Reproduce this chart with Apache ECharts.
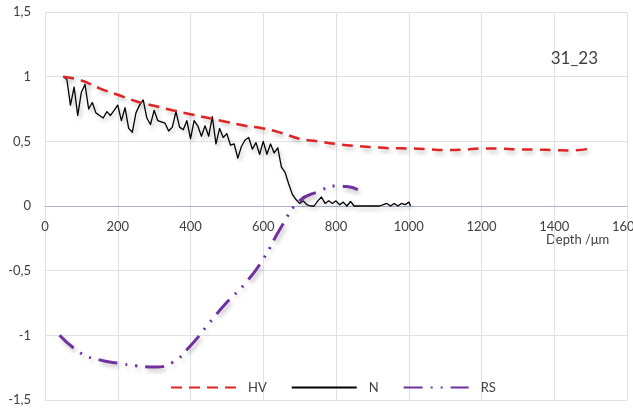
<!DOCTYPE html>
<html>
<head>
<meta charset="utf-8">
<script src="https://cdn.jsdelivr.net/npm/echarts@6/dist/echarts.min.js"></script>
<style>
  html, body { margin: 0; padding: 0; background: #fff; }
  #chart { width: 633px; height: 412px; }
</style>
</head>
<body>
<div id="chart"></div>
<script>
// HV (dashed red)
var hvDepth = [50, 100, 150, 200, 250, 300, 350, 400, 450, 500, 550, 600, 650, 700, 750,
  800, 850, 900, 950, 1000, 1050, 1100, 1150, 1200, 1250, 1300, 1350, 1400, 1450, 1500]
var hvValue = [1.00, 0.97, 0.91, 0.86, 0.81, 0.775, 0.74, 0.71, 0.68, 0.65, 0.62, 0.60, 0.565, 0.52, 0.50,
  0.48, 0.465, 0.455, 0.447, 0.445, 0.44, 0.432, 0.435, 0.445, 0.443, 0.438, 0.436, 0.432, 0.43, 0.445]

// N (black, noisy)
var nDepth = [50, 60, 70, 80, 90, 100, 110, 120, 130, 140, 150, 160, 170, 180, 190,
  200, 210, 220, 230, 240, 250, 260, 270, 280, 290, 300, 310, 320, 330, 340,
  350, 360, 370, 380, 390, 400, 410, 420, 430, 440, 450, 460, 470, 480, 490,
  500, 510, 520, 530, 540, 550, 560, 570, 580, 590, 600, 610, 620, 630, 640,
  650, 660, 670, 680, 690, 700, 710, 720, 730, 740, 750, 760, 770, 780, 790,
  800, 810, 820, 830, 840, 850, 860, 870, 880, 890, 900, 910, 920, 930, 940,
  950, 960, 970, 980, 990, 1000, 1005]
var nValue = [1.00, 0.98, 0.78, 0.92, 0.70, 0.88, 0.94, 0.75, 0.80, 0.72, 0.70, 0.68, 0.73, 0.70, 0.74,
  0.78, 0.66, 0.76, 0.60, 0.57, 0.72, 0.78, 0.82, 0.68, 0.63, 0.74, 0.66, 0.65, 0.64, 0.58,
  0.61, 0.73, 0.61, 0.59, 0.66, 0.52, 0.66, 0.62, 0.54, 0.62, 0.54, 0.69, 0.48, 0.60, 0.53,
  0.56, 0.47, 0.48, 0.37, 0.46, 0.51, 0.53, 0.44, 0.49, 0.40, 0.50, 0.40, 0.48, 0.41, 0.45,
  0.30, 0.26, 0.17, 0.09, 0.05, 0.02, 0.04, 0.01, 0.00, 0.00, 0.04, 0.07, 0.02, 0.04, 0.02,
  0.04, 0.01, 0.03, 0.00, 0.035, 0.00, 0.00, 0.00, 0.00, 0.00, 0.00, 0.00, 0.00, 0.01, 0.02,
  0.00, 0.02, 0.00, 0.02, 0.01, 0.03, 0.00]

// RS (purple dash-dot-dot)
var rsDepth = [40, 100, 150, 200, 250, 300, 350, 400, 450, 500, 550, 600, 650, 700, 750, 800, 830, 860]
var rsValue = [-1.0, -1.14, -1.19, -1.215, -1.235, -1.245, -1.21, -1.08, -0.91, -0.745, -0.60, -0.41, -0.16, 0.04, 0.11, 0.155, 0.15, 0.127]

var xTicks = { min: 0, max: 1600, interval: 200 }
var yTicks = { min: -1.5, max: 1.5, interval: 0.5 }

function pairs(xs, ys) {
  return xs.map(function (x, i) { return [x, ys[i]] })
}

var font = 'Lato, "Open Sans", sans-serif'
var shadow = {
  shadowColor: 'rgba(0,0,0,0.25)',
  shadowBlur: 4,
  shadowOffsetX: 2,
  shadowOffsetY: 3
}

var chart = echarts.init(document.getElementById('chart'))
chart.setOption({
  animation: false,
  textStyle: { fontFamily: font },
  title: {
    text: '31_23',
    right: 30,
    top: 45,
    textStyle: { fontFamily: font, fontSize: 17, fontWeight: 'normal', color: '#404040' }
  },
  graphic: [{
    type: 'text',
    left: 546,
    top: 233,
    style: { text: 'Depth /\u03bcm', font: '13px ' + font, fill: '#404040' }
  }],
  grid: { left: 45, right: 6, top: 12, bottom: 12, containLabel: false, outerBoundsMode: 'none' },
  legend: {
    left: 170,
    top: 381,
    padding: 0,
    itemWidth: 65,
    itemHeight: 14,
    itemGap: 24,
    data: ['HV', 'N', 'RS'],
    itemStyle: { opacity: 0 },
    textStyle: { fontFamily: font, fontSize: 13, color: '#404040', padding: [0, 0, 0, 7] }
  },
  xAxis: {
    type: 'value',
    min: xTicks.min,
    max: xTicks.max,
    interval: xTicks.interval,
    position: 'bottom',
    offset: -194,
    axisLine: { onZero: false, lineStyle: { color: '#aab3c5', width: 1 } },
    axisTick: { show: false },
    axisLabel: {
      color: '#404040', fontSize: 13, fontFamily: font, margin: 14,
      formatter: function (v) { return String(v) }
    },
    splitLine: { show: true, lineStyle: { color: '#dde1e8', width: 1 } }
  },
  yAxis: {
    type: 'value',
    min: yTicks.min,
    max: yTicks.max,
    interval: yTicks.interval,
    axisLine: { show: false },
    axisTick: { show: false },
    axisLabel: {
      color: '#404040', fontSize: 13, fontFamily: font, margin: 14,
      formatter: function (v) { return String(v).replace('.', ',') }
    },
    splitLine: { show: true, lineStyle: { color: '#dde1e8', width: 1 } }
  },
  series: [
    {
      name: 'HV',
      type: 'line',
      smooth: true,
      symbol: 'none',
      data: pairs(hvDepth, hvValue),
      lineStyle: Object.assign({ color: '#de2424', width: 2.5, type: [11, 7] }, shadow),
      itemStyle: { color: '#de2424' },
      z: 3
    },
    {
      name: 'N',
      type: 'line',
      symbol: 'none',
      data: pairs(nDepth, nValue),
      lineStyle: Object.assign({ color: '#000', width: 1.3, join: 'round' }, shadow),
      itemStyle: { color: '#000' },
      z: 2
    },
    {
      name: 'RS',
      type: 'line',
      smooth: true,
      symbol: 'none',
      data: pairs(rsDepth, rsValue),
      lineStyle: Object.assign({ color: '#7030a0', width: 3, type: [19, 8, 2, 8, 2, 8] }, shadow),
      itemStyle: { color: '#7030a0' },
      z: 4
    }
  ]
})
</script>
</body>
</html>
